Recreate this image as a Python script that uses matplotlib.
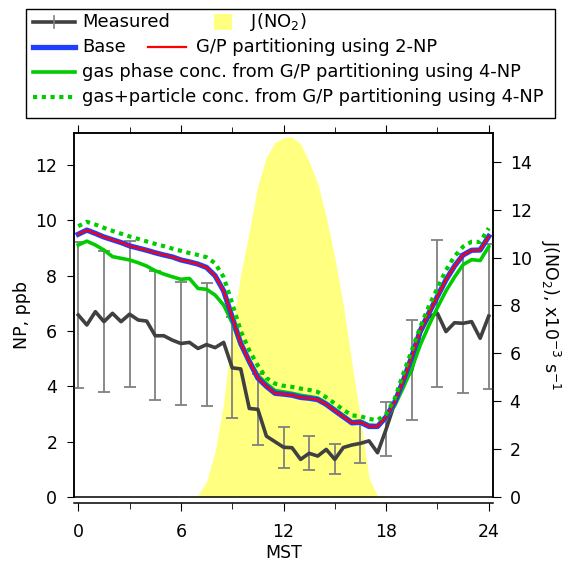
import numpy as np
import matplotlib
matplotlib.use("Agg")
from matplotlib import pyplot as plt
from matplotlib.lines import Line2D
from matplotlib.patches import Rectangle

plt.rcParams['font.family'] = ['DejaVu Sans']

# hour of day (MST), half-hour steps
hours = np.arange(0, 24.5, 0.5)

measured = [6.58, 6.22, 6.70, 6.34, 6.64, 6.34, 6.61, 6.40, 6.36, 5.83,
            5.83, 5.67, 5.55, 5.59, 5.37, 5.51, 5.40, 5.59, 4.67, 4.63,
            3.20, 3.17, 2.20, 2.00, 1.80, 1.78, 1.36, 1.58, 1.48, 1.72,
            1.36, 1.79, 1.88, 1.94, 2.03, 1.60, 2.45, 3.39, 4.11, 4.59,
            5.92, 6.52, 6.64, 5.98, 6.30, 6.28, 6.34, 5.74, 6.54]
# error bars shown every 1.5 h
meas_err = [2.64, 2.55, 2.65, 2.33, 2.22, 2.21, 1.82, 1.28, 0.74,
            0.62, 0.54, 0.70, 0.98, 1.82, 2.65, 2.52, 2.62]

base = [9.50, 9.65, 9.53, 9.40, 9.30, 9.20, 9.08, 9.00, 8.92, 8.83,
        8.75, 8.68, 8.57, 8.50, 8.42, 8.30, 8.00, 7.45, 6.50, 5.55,
        4.90, 4.30, 4.00, 3.75, 3.72, 3.68, 3.60, 3.57, 3.52, 3.35,
        3.12, 2.90, 2.68, 2.70, 2.55, 2.55, 2.90, 3.42, 4.20, 5.07,
        6.02, 6.65, 7.25, 7.85, 8.35, 8.75, 8.92, 8.93, 9.42]
gp_2np = [9.50, 9.65, 9.53, 9.40, 9.30, 9.20, 9.08, 9.00, 8.92, 8.83,
          8.75, 8.68, 8.57, 8.50, 8.42, 8.30, 8.00, 7.45, 6.50, 5.55,
          4.90, 4.30, 4.00, 3.75, 3.72, 3.68, 3.60, 3.57, 3.52, 3.35,
          3.12, 2.90, 2.68, 2.70, 2.55, 2.55, 2.90, 3.42, 4.20, 5.07,
          6.02, 6.65, 7.25, 7.85, 8.35, 8.75, 8.92, 8.93, 9.42]
gas_4np = [9.11, 9.25, 9.11, 8.93, 8.69, 8.63, 8.57, 8.47, 8.35, 8.18,
           8.06, 7.96, 7.87, 7.90, 7.54, 7.51, 7.30, 6.94, 6.30, 5.50,
           4.95, 4.40, 4.10, 3.85, 3.80, 3.75, 3.68, 3.63, 3.58, 3.40,
           3.18, 2.95, 2.72, 2.75, 2.60, 2.58, 2.85, 3.30, 3.95, 4.65,
           5.50, 6.20, 6.85, 7.45, 7.95, 8.40, 8.58, 8.55, 9.05]
gaspart_4np = [9.79, 9.95, 9.85, 9.73, 9.62, 9.52, 9.42, 9.33, 9.24, 9.15,
               9.07, 8.98, 8.90, 8.82, 8.75, 8.67, 8.45, 7.95, 7.00, 6.00,
               5.30, 4.75, 4.30, 4.10, 4.02, 3.98, 3.92, 3.87, 3.80, 3.60,
               3.38, 3.15, 2.95, 2.92, 2.82, 2.78, 3.00, 3.55, 4.45, 5.30,
               6.15, 6.90, 7.55, 8.20, 8.70, 9.05, 9.23, 9.22, 9.72]

# J(NO2), x1e-3 s-1
jno2 = [0, 0, 0, 0, 0, 0, 0, 0, 0, 0, 0, 0, 0,
        0.0, 0.08, 0.64, 1.9, 3.9, 7.0, 9.3, 11.1, 13.0, 14.2, 14.8,
        15.0, 15.03, 14.75, 14.0, 13.1, 11.7, 10.0, 8.0, 5.6, 3.3,
        0.8, 0.05, 0, 0, 0, 0, 0, 0, 0, 0, 0, 0, 0, 0, 0]

xticks = [0, 6, 12, 18, 24]

c_meas = '#404040'
c_err = '#808080'
c_blue = '#1f3fff'
c_red = '#ff0000'
c_green = '#00cc00'
c_yellow = '#ffff80'

W, H = 577, 561
fig = plt.figure(figsize=(W / 100, H / 100), dpi=100)
ax = fig.add_axes([74 / W, 1 - 497 / H, (493 - 74) / W, (497 - 133) / H])
ax2 = ax.twinx()
ax.set_zorder(ax2.get_zorder() + 1)
ax.patch.set_visible(False)

# J(NO2) on right axis
ax2.fill_between(hours, jno2, 0, color=c_yellow, lw=0)
ax2.set_ylim(0, 15.2)
ax2.set_yticks(range(0, 15, 2))

# measured + error bars
ax.plot(hours, measured, color=c_meas, lw=2.6, zorder=3)
hrs_e = hours[::3]
meas_e = np.array(measured)[::3]
ax.errorbar(hrs_e, meas_e, yerr=meas_err, fmt='none', ecolor=c_err,
            elinewidth=1.3, capsize=4, capthick=1.3, zorder=2)

# model lines
ax.plot(hours, base, color=c_blue, lw=3.8, zorder=4)
ax.plot(hours, gp_2np, color=c_red, lw=1.6, zorder=5)
ax.plot(hours, gas_4np, color=c_green, lw=2.6, zorder=3.5)
ax.plot(hours, gaspart_4np, color=c_green, lw=3, dashes=(1, 1.1), zorder=6)

ax.set_xlim(-0.25, 24.25)
ax.set_ylim(0, 13.16)
ax.set_xticks(xticks)
ax.set_xticks([3, 9, 15, 21], minor=True)
ax.set_yticks(range(0, 13, 2))

ax.spines['bottom'].set_position(('outward', 4))
ax.tick_params(axis='x', which='both', direction='out', top=True,
               labelsize=12.5, pad=9)
ax.tick_params(axis='x', which='major', length=6)
ax.tick_params(axis='x', which='minor', length=4)
ax.tick_params(axis='y', direction='out', length=5, labelsize=12.5, pad=7)
ax2.tick_params(axis='y', direction='out', length=6, labelsize=12.5, pad=6)
for a in (ax, ax2):
    for s in a.spines.values():
        s.set_linewidth(1.1)

ax.set_xlabel('MST', fontsize=12.5, labelpad=2)
ax.set_ylabel('NP, ppb', fontsize=12.5, labelpad=3)
ax2.set_ylabel('J(NO$_2$), x10$^{-3}$ s$^{-1}$', fontsize=12.5,
               rotation=270, labelpad=22)

# legend box, laid out by hand like the original
def fx(px):
    return px / W

def fy(py):
    return 1 - py / H

fig.add_artist(Rectangle((fx(26), fy(118)), fx(555) - fx(26), fy(9) - fy(118),
                         transform=fig.transFigure, facecolor='white',
                         edgecolor='black', lw=1.0, zorder=10))
ltxt = dict(fontsize=12.9, va='center', ha='left', zorder=11)

def leg_line(x0, x1, y, **kw):
    fig.add_artist(Line2D([fx(x0), fx(x1)], [fy(y), fy(y)],
                          transform=fig.transFigure, zorder=11, **kw))

leg_line(33, 75, 22, color=c_meas, lw=2.6)
fig.add_artist(Line2D([fx(54), fx(54)], [fy(16), fy(28)],
                      transform=fig.transFigure, color=c_err, lw=1.2, zorder=12))
fig.text(fx(82), fy(22), 'Measured', **ltxt)
fig.add_artist(Rectangle((fx(214), fy(30)), fx(18), fy(14) - fy(30),
                         transform=fig.transFigure, facecolor=c_yellow,
                         lw=0, zorder=11))
fig.text(fx(250), fy(22), 'J(NO$_2$)', **ltxt)

leg_line(33, 75, 47, color=c_blue, lw=3.8)
fig.text(fx(82), fy(47), 'Base', **ltxt)
leg_line(148, 186, 47, color=c_red, lw=1.6)
fig.text(fx(196), fy(47), 'G/P partitioning using 2-NP', **ltxt)

leg_line(33, 75, 72, color=c_green, lw=2.6)
fig.text(fx(82), fy(72), 'gas phase conc. from G/P partitioning using 4-NP', **ltxt)
leg_line(33, 75, 97, color=c_green, lw=3, dashes=(1, 1.1))
fig.text(fx(82), fy(97), 'gas+particle conc. from G/P partitioning using 4-NP', **ltxt)

fig.savefig('out.png', dpi=100)
